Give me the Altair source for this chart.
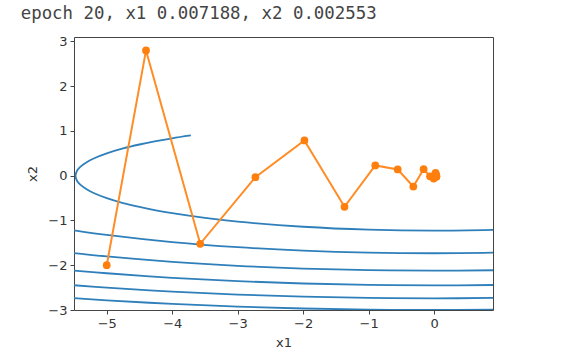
import altair as alt
import pandas as pd

title_text = "epoch 20, x1 0.007188, x2 0.002553"

# Gradient-descent (momentum) trace, 21 points
trace_x1 = [-5.0, -4.4, -3.572, -2.7294, -1.9805, -1.3684, -0.8982, -0.5553,
            -0.3172, -0.1601, -0.0623, -0.0060, 0.0229, 0.0346, 0.0363,
            0.0328, 0.0271, 0.0210, 0.0154, 0.0108, 0.0072]
trace_x2 = [-2.0, 2.8, -1.52, -0.032, 0.7888, -0.6939, 0.2301, 0.1398,
            -0.2409, 0.1469, -0.0118, -0.0629, 0.0625, -0.0248, -0.0089,
            0.0204, -0.0139, 0.0023, 0.0049, -0.0055, 0.0026]

# Contour lines
lvl3_x1 = [-3.715, -4.0, -4.25, -4.5, -4.75, -5.0, -5.2, -5.3, -5.4, -5.45, -5.477,
           -5.45, -5.4, -5.3, -5.2, -5.0, -4.75, -4.5, -4.25, -4.0, -3.5, -3.0,
           -2.0, -1.0, 0.0, 0.9]
lvl3_x2 = [0.9, 0.837, 0.773, 0.698, 0.610, 0.5, 0.385, 0.309, 0.205, 0.122, 0.0,
           -0.122, -0.205, -0.309, -0.385, -0.5, -0.610, -0.698, -0.773, -0.837,
           -0.942, -1.025, -1.140, -1.204, -1.225, -1.208]

grid_x1 = [-5.5, -5.0, -4.0, -3.0, -2.0, -1.0, 0.0, 0.9]
lvl6_x2 = [-1.220, -1.323, -1.483, -1.597, -1.673, -1.718, -1.732, -1.720]
lvl9_x2 = [-1.728, -1.803, -1.924, -2.013, -2.074, -2.110, -2.121, -2.112]
lvl12_x2 = [-2.118, -2.179, -2.280, -2.356, -2.408, -2.439, -2.450, -2.441]
lvl15_x2 = [-2.447, -2.500, -2.588, -2.655, -2.702, -2.730, -2.739, -2.731]
lvl18_x2 = [-2.736, -2.784, -2.864, -2.924, -2.967, -2.992, -3.000, -2.992]

rows = []
for i, (a, b) in enumerate(zip(lvl3_x1, lvl3_x2)):
    rows.append({"level": 3, "i": i, "x1": a, "x2": b})
for lvl, ys in [(6, lvl6_x2), (9, lvl9_x2), (12, lvl12_x2), (15, lvl15_x2), (18, lvl18_x2)]:
    for i, (a, b) in enumerate(zip(grid_x1, ys)):
        rows.append({"level": lvl, "i": i, "x1": a, "x2": b})
contours = pd.DataFrame(rows)

trace = pd.DataFrame({"i": list(range(len(trace_x1))), "x1": trace_x1, "x2": trace_x2})

xscale = alt.Scale(domain=[-5.5, 0.9], nice=False, zero=False)
yscale = alt.Scale(domain=[-3.0, 3.1], nice=False, zero=False)
xaxis = alt.Axis(title="x1", values=[-5, -4, -3, -2, -1, 0], format="d", grid=False, domain=False,
                 tickSize=4, tickColor="#444", labelPadding=3, titlePadding=6)
yaxis = alt.Axis(title="x2", values=[-3, -2, -1, 0, 1, 2, 3], format="d", grid=False, domain=False,
                 tickSize=4, tickColor="#444", labelPadding=3, titlePadding=8)

contour_layer = alt.Chart(contours).mark_line(
    color="#2f7fbb", strokeWidth=1.8, interpolate="catmull-rom", clip=True
).encode(
    x=alt.X("x1:Q", scale=xscale, axis=xaxis),
    y=alt.Y("x2:Q", scale=yscale, axis=yaxis),
    detail="level:N",
    order="i:Q",
)

trace_line = alt.Chart(trace).mark_line(color="#ff8c25", strokeWidth=2, clip=True).encode(
    x=alt.X("x1:Q", scale=xscale),
    y=alt.Y("x2:Q", scale=yscale),
    order="i:Q",
)
trace_pts = alt.Chart(trace).mark_point(
    filled=True, color="#ff7f0e", opacity=1, size=60, clip=True
).encode(
    x=alt.X("x1:Q", scale=xscale),
    y=alt.Y("x2:Q", scale=yscale),
)

title_layer = alt.Chart(pd.DataFrame({"t": [title_text]})).mark_text(
    align="left", baseline="alphabetic", font="DejaVu Sans Mono", fontSize=17.4,
    color="#444"
).encode(text="t:N", x=alt.value(-53.3), y=alt.value(-18.5))

chart = alt.layer(contour_layer, trace_line, trace_pts, title_layer).properties(
    width=419, height=273, autosize="none",
    padding={"left": 74, "top": 37, "right": 83, "bottom": 46},
).configure_view(stroke="#444", strokeWidth=1).configure_axis(
    labelFont="DejaVu Sans", labelFontSize=13, labelColor="#333",
    titleFont="DejaVu Sans", titleFontSize=13, titleColor="#333", titleFontWeight="normal",
)

chart.save("out.html", embed_options={"renderer": "svg", "actions": False})
